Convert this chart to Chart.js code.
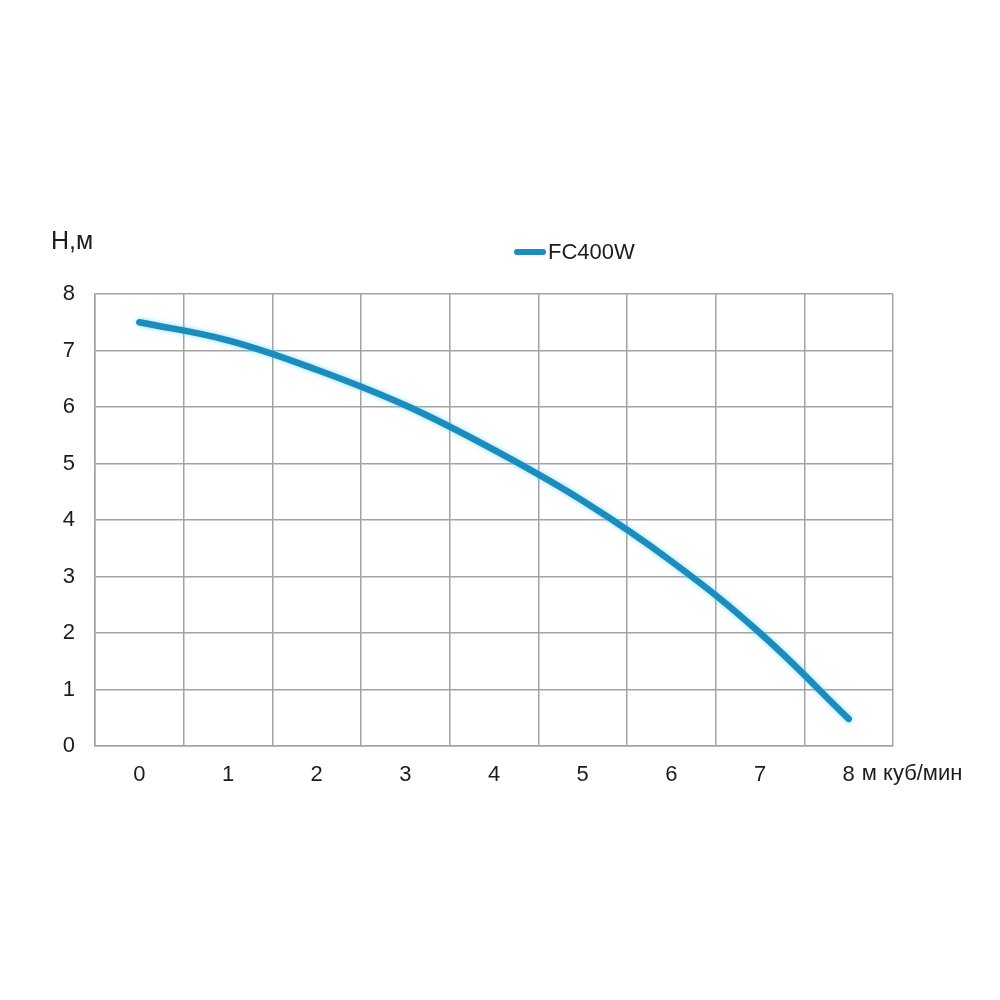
<!DOCTYPE html>
<html>
<head>
<meta charset="utf-8">
<script src="https://cdn.jsdelivr.net/npm/chart.js@4/dist/chart.umd.min.js"></script>
<style>
html,body{margin:0;padding:0;background:#fff;}
#wrap{width:1000px;height:1000px;position:relative;}
</style>
</head>
<body>
<div id="wrap"><canvas id="c" width="1000" height="1000"></canvas></div>
<script>
const categories = ['0','1','2','3','4','5','6','7','8'];
const headValues = [7.5, 7.18, 6.66, 6.03, 5.24, 4.34, 3.27, 2.0, 0.48];
const yTicks = [0,1,2,3,4,5,6,7,8];
const seriesName = 'FC400W';
const yTitle = 'Н,м';
const xUnit = 'м куб/мин';

const FONT = '"Liberation Sans", Arial, sans-serif';
const lineColor = '#1c8cbf';
const gridColor = '#a3a3a3';
const textColor = '#1c1c1c';

const glow = {
  id: 'glow',
  beforeDatasetDraw(chart) {
    const ctx = chart.ctx;
    ctx.save();
    ctx.shadowColor = 'rgba(90,215,250,0.75)';
    ctx.shadowBlur = 5;
  },
  afterDatasetDraw(chart) {
    chart.ctx.restore();
  }
};

const extras = {
  id: 'extras',
  afterDraw(chart) {
    const ctx = chart.ctx;
    const xs = chart.scales.x;
    ctx.save();
    ctx.fillStyle = textColor;
    ctx.textBaseline = 'middle';
    ctx.textAlign = 'left';
    // y-axis title
    ctx.font = '25px ' + FONT;
    ctx.fillText(yTitle, 51, 242);
    // x unit after last tick label
    ctx.font = '22px ' + FONT;
    const lastX = xs.getPixelForValue(categories.length - 1);
    const w8 = ctx.measureText(categories[categories.length - 1]).width;
    ctx.fillText(xUnit, lastX + w8 / 2 + 7, 774);
    // legend
    const ds = chart.data.datasets[0];
    ctx.strokeStyle = ds.borderColor;
    ctx.lineWidth = 6;
    ctx.lineCap = 'round';
    ctx.beginPath();
    ctx.moveTo(517, 252);
    ctx.lineTo(543, 252);
    ctx.stroke();
    ctx.fillStyle = textColor;
    ctx.font = '22px ' + FONT;
    ctx.fillText(ds.label, 548, 253);
    ctx.restore();
  }
};

new Chart(document.getElementById('c'), {
  type: 'line',
  data: {
    labels: categories,
    datasets: [{
      label: seriesName,
      data: headValues,
      borderColor: lineColor,
      backgroundColor: lineColor,
      borderWidth: 6.5,
      borderCapStyle: 'round',
      borderJoinStyle: 'round',
      pointRadius: 0,
      tension: 0.4,
      fill: false
    }]
  },
  options: {
    responsive: false,
    animation: false,
    layout: { padding: { top: 294, right: 107, left: 0, bottom: 0 } },
    plugins: { legend: { display: false }, tooltip: { enabled: false } },
    scales: {
      x: {
        type: 'category',
        offset: true,
        grid: { offset: true, color: gridColor, lineWidth: 1.5, drawTicks: false },
        border: { color: gridColor, width: 1.5 },
        ticks: { color: textColor, font: { family: FONT, size: 22 }, padding: 16, maxRotation: 0 },
        afterFit(s) { s.height = 254; }
      },
      y: {
        min: 0, max: 8,
        afterBuildTicks(s) { s.ticks = yTicks.map(v => ({ value: v })); },
        grid: { color: gridColor, lineWidth: 1.5, drawTicks: false },
        border: { color: gridColor, width: 1.5 },
        ticks: { color: textColor, font: { family: FONT, size: 22 }, padding: 20 },
        afterFit(s) { s.width = 95; }
      }
    }
  },
  plugins: [glow, extras]
});
</script>
</body>
</html>
